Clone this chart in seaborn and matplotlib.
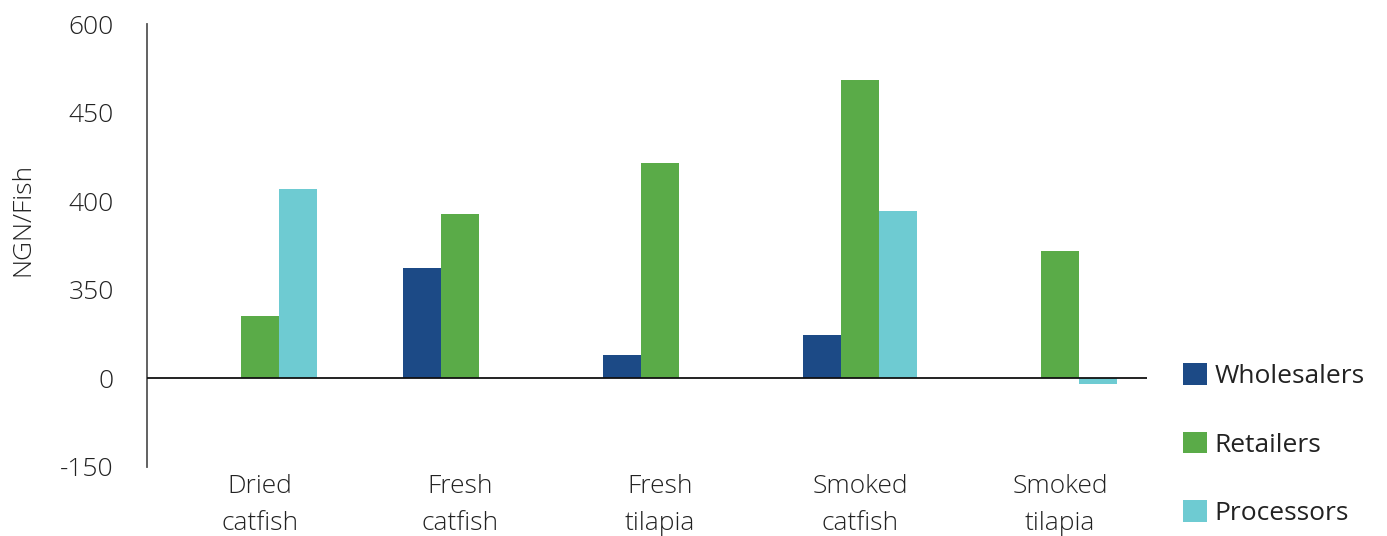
import numpy as np
import pandas as pd
import matplotlib
matplotlib.use("Agg")
import matplotlib.pyplot as plt
import seaborn as sns
from matplotlib.patches import Patch

categories = ["Dried\ncatfish", "Fresh\ncatfish", "Fresh\ntilapia", "Smoked\ncatfish", "Smoked\ntilapia"]
wholesalers = [np.nan, 187, 39, 73, np.nan]
retailers = [106, 278, 365, 506, 216]
processors = [321, np.nan, np.nan, 283, -10]
series_names = ["Wholesalers", "Retailers", "Processors"]
ytick_values = [-150, 0, 150, 300, 450, 600]
ytick_labels = ["-150", "0", "350", "400", "450", "600"]

colors = ["#1C4A86", "#5AAB48", "#6ECBD2"]

df = pd.DataFrame({
    "category": categories * 3,
    "series": [s for s in series_names for _ in categories],
    "value": wholesalers + retailers + processors,
})

sns.set_theme(style="white")
plt.rcParams["font.family"] = ["Open Sans", "DejaVu Sans"]

fig = plt.figure(figsize=(13.87, 5.36), dpi=100)
ax = fig.add_axes([147 / 1387, 1 - 467 / 536, 1000 / 1387, 443 / 536])

sns.barplot(data=df, x="category", y="value", hue="series", hue_order=series_names,
            order=categories, palette=colors, width=0.57, dodge=True,
            saturation=1, ax=ax, legend=False, linewidth=0)

ax.set_xlim(-0.565, 4.435)
ax.set_ylim(-150, 600)
ax.axhline(0, color="#111111", linewidth=1.3, zorder=3)

ax.set_yticks(ytick_values)
ax.set_yticklabels(ytick_labels, fontsize=19, color="#222222", fontweight="light")
ax.tick_params(axis="y", length=0, pad=24)
ax.tick_params(axis="x", length=0, pad=5)
for lbl in ax.get_xticklabels():
    lbl.set_fontsize(19)
    lbl.set_color("#222222")
    lbl.set_fontweight("light")
    lbl.set_linespacing(1.65)

ax.set_xlabel("")
ax.set_ylabel("NGN/Fish", fontsize=19, color="#222222", fontweight="light")
ax.yaxis.set_label_coords(-0.112, 0.558)

for side in ["top", "right", "bottom"]:
    ax.spines[side].set_visible(False)
ax.spines["left"].set_color("#555555")
ax.spines["left"].set_linewidth(1.3)

handles = [Patch(facecolor=c, edgecolor="none") for c in colors]
fig.legend(handles, series_names, loc="upper left", bbox_to_anchor=(1159 / 1387, 1 - 339 / 536),
           frameon=False, fontsize=19, labelspacing=1.62, handlelength=0.9, handleheight=0.9,
           handletextpad=0.3, labelcolor="#222222")

fig.savefig("out.png", dpi=100)
